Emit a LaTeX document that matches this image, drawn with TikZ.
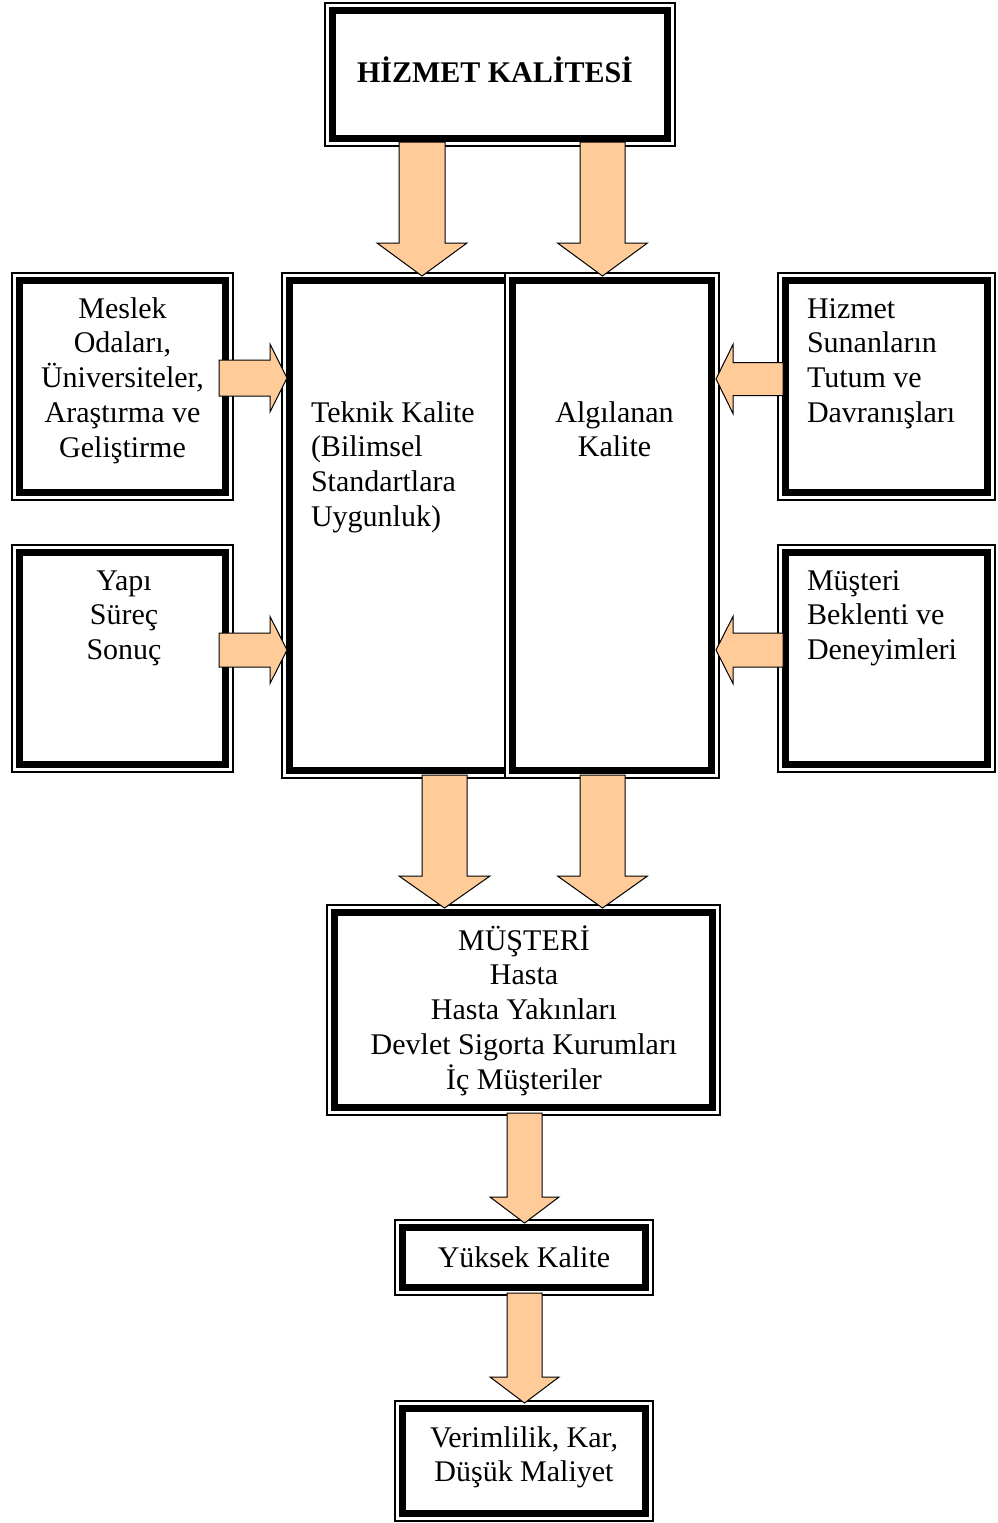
\documentclass[tikz,border=0pt]{standalone}
\usepackage{fontspec}
\setmainfont{Liberation Serif}
\usetikzlibrary{calc}
\definecolor{peach}{RGB}{255,204,153}
\tikzset{
  box/.style={draw, line width=1.3pt, fill=white, inner sep=0pt, outer sep=0pt},
  frame/.style={line width=7.5pt},
  txt/.style={font=\fontsize{30}{34.8}\selectfont, inner sep=0pt, outer sep=0pt},
  blockarrow/.style={fill=peach, draw=black, line width=1pt, line join=miter},
}
\newcommand\myframe[1]{\draw[frame] ([shift={(7.5pt,-7.5pt)}]#1.north west) rectangle ([shift={(-7.5pt,7.5pt)}]#1.south east);}
% vertical block arrow: #1 x, #2 from, #3 to, #4 shaft half, #5 head half, #6 head length, #7 start inset, #8 tip overlap
\newcommand\myvarrow[8]{\filldraw[blockarrow] let \p1=(#2.south), \p2=(#3.north) in
  (#1pt-#4pt,\y1+#7pt) -- (#1pt-#4pt,\y2-#8pt+#6pt) -- (#1pt-#5pt,\y2-#8pt+#6pt) -- (#1pt,\y2-#8pt)
  -- (#1pt+#5pt,\y2-#8pt+#6pt) -- (#1pt+#4pt,\y2-#8pt+#6pt) -- (#1pt+#4pt,\y1+#7pt) -- cycle;}
% rightward block arrow: #1 y, #2 from, #3 to, ...
\newcommand\myrarrow[8]{\filldraw[blockarrow] let \p1=(#2.east), \p2=(#3.west) in
  (\x1-#7pt,#1pt+#4pt) -- (\x2+#8pt-#6pt,#1pt+#4pt) -- (\x2+#8pt-#6pt,#1pt+#5pt) -- (\x2+#8pt,#1pt)
  -- (\x2+#8pt-#6pt,#1pt-#5pt) -- (\x2+#8pt-#6pt,#1pt-#4pt) -- (\x1-#7pt,#1pt-#4pt) -- cycle;}
% leftward block arrow
\newcommand\mylarrow[8]{\filldraw[blockarrow] let \p1=(#2.west), \p2=(#3.east) in
  (\x1+#7pt,#1pt+#4pt) -- (\x2-#8pt+#6pt,#1pt+#4pt) -- (\x2-#8pt+#6pt,#1pt+#5pt) -- (\x2-#8pt,#1pt)
  -- (\x2-#8pt+#6pt,#1pt-#5pt) -- (\x2-#8pt+#6pt,#1pt-#4pt) -- (\x1+#7pt,#1pt-#4pt) -- cycle;}
\begin{document}
\begin{tikzpicture}[x=1pt,y=1pt]
\useasboundingbox (0,0) rectangle (997,-1523);
% boxes
\node[box, minimum width=350pt, minimum height=143pt] (top) at (500,-74.5) {};
\myframe{top}
\node[box, minimum width=221pt, minimum height=227pt] (l1) at (122.5,-386.5) {};
\myframe{l1}
\node[box, minimum width=221pt, minimum height=227pt] (l2) at (122.5,-658.5) {};
\myframe{l2}
\node[box, minimum width=238pt, minimum height=505pt] (ml) at (401,-525.5) {};
\myframe{ml}
\node[box, minimum width=214pt, minimum height=505pt] (mr) at (612,-525.5) {};
\myframe{mr}
\node[box, minimum width=217pt, minimum height=227pt] (r1) at (886.5,-386.5) {};
\myframe{r1}
\node[box, minimum width=217pt, minimum height=227pt] (r2) at (886.5,-658.5) {};
\myframe{r2}
\node[box, minimum width=393pt, minimum height=210pt] (cust) at (523.5,-1010) {};
\myframe{cust}
\node[box, minimum width=258pt, minimum height=75pt] (yk) at (524,-1257.5) {};
\myframe{yk}
\node[box, minimum width=258pt, minimum height=120pt] (ver) at (524,-1461) {};
\myframe{ver}
% texts
\node[txt, anchor=base west, font=\fontsize{30}{34.8}\selectfont\bfseries] (topT) at (357,-82) {HİZMET KALİTESİ};
\node[txt, anchor=base] (l1T) at (122.5,-318) {\begin{tabular}[t]{@{}c@{}}Meslek\\Odaları,\\Üniversiteler,\\Araştırma ve\\Geliştirme\end{tabular}};
\node[txt, anchor=base] (l2T) at (124,-590) {\begin{tabular}[t]{@{}c@{}}Yapı\\Süreç\\Sonuç\end{tabular}};
\node[txt, anchor=base west] (mlT) at (311,-422) {\begin{tabular}[t]{@{}l@{}}Teknik Kalite\\(Bilimsel\\Standartlara\\Uygunluk)\end{tabular}};
\node[txt, anchor=base] (mrT) at (614.5,-422) {\begin{tabular}[t]{@{}c@{}}Algılanan\\Kalite\end{tabular}};
\node[txt, anchor=base west] (r1T) at (807,-318) {\begin{tabular}[t]{@{}l@{}}Hizmet\\Sunanların\\Tutum ve\\Davranışları\end{tabular}};
\node[txt, anchor=base west] (r2T) at (807,-590) {\begin{tabular}[t]{@{}l@{}}Müşteri\\Beklenti ve\\Deneyimleri\end{tabular}};
\node[txt, anchor=base] (custT) at (524,-950) {\begin{tabular}[t]{@{}c@{}}MÜŞTERİ\\Hasta\\Hasta Yakınları\\Devlet Sigorta Kurumları\\İç Müşteriler\end{tabular}};
\node[txt, anchor=base] (ykT) at (524,-1267) {Yüksek Kalite};
\node[txt, anchor=base] (verT) at (524,-1447) {\begin{tabular}[t]{@{}c@{}}Verimlilik, Kar,\\Düşük Maliyet\end{tabular}};
% arrows
\myvarrow{422}{top}{ml}{23}{45}{33}{4}{3}
\myvarrow{602.5}{top}{mr}{22.5}{45}{33}{4}{3}
\myvarrow{444.5}{ml}{cust}{22.5}{45.5}{32}{3}{3}
\myvarrow{602.5}{mr}{cust}{22.5}{45}{32}{3}{3}
\myvarrow{524.5}{cust}{yk}{17.5}{34.5}{26}{2}{3}
\myvarrow{524.5}{yk}{ver}{17.5}{34.5}{26}{2}{2}
\myrarrow{-378}{l1}{ml}{18}{34}{17}{14}{5}
\myrarrow{-650}{l2}{ml}{17}{33.5}{17}{14}{5}
\mylarrow{-379}{r1}{mr}{16.5}{34.5}{17}{5}{3}
\mylarrow{-650}{r2}{mr}{17}{33.5}{17}{5}{3}
\end{tikzpicture}
\end{document}
